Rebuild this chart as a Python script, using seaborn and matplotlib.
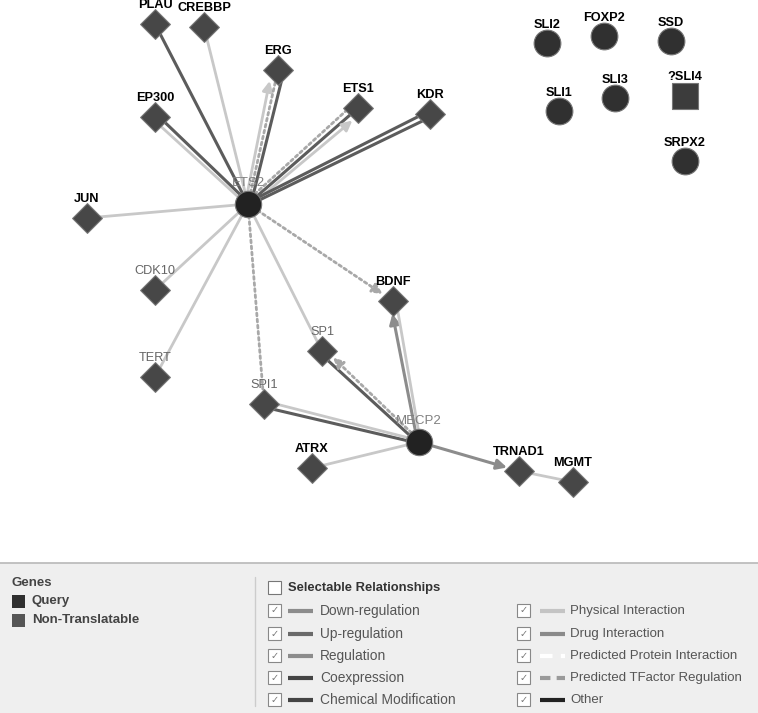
import numpy as np
import pandas as pd
import matplotlib
matplotlib.use("Agg")
import matplotlib.pyplot as plt
from matplotlib.patches import Rectangle
import seaborn as sns

# node data (pixel layout of the network view)
node_names = ["ETS2", "MECP2", "PLAU", "CREBBP", "ERG", "EP300", "ETS1", "KDR", "JUN",
              "CDK10", "TERT", "SPI1", "SP1", "BDNF", "ATRX", "TRNAD1", "MGMT",
              "SLI2", "FOXP2", "SSD", "SLI1", "SLI3", "?SLI4", "SRPX2"]
node_x = [248, 419, 155, 204, 278, 155, 358, 430, 87,
          155, 155, 264, 322, 393, 312, 519, 573,
          547, 604, 671, 559, 615, 685, 685]
node_y = [204, 442, 24, 27, 70, 117, 108, 114, 218,
          290, 377, 404, 351, 301, 468, 471, 482,
          43, 36, 41, 111, 98, 96, 161]
node_kind = ["query", "query", "gene", "gene", "gene", "gene", "gene", "gene", "gene",
             "gene", "gene", "gene", "gene", "gene", "gene", "gene", "gene",
             "sli", "sli", "sli", "sli", "sli", "sli4", "sli"]
# labels drawn in gray (query genes and some neighbours)
gray_labels = ["ETS2", "MECP2", "CDK10", "TERT", "SPI1", "SP1"]

edges = [
    ("ETS2", "PLAU", "coexp"), ("ETS2", "CREBBP", "phys"),
    ("ETS2", "ERG", "phys_arrow"), ("ETS2", "ERG", "pred_tf"), ("ETS2", "ERG", "coexp"),
    ("ETS2", "EP300", "phys"), ("ETS2", "EP300", "coexp"),
    ("ETS2", "ETS1", "pred_tf"), ("ETS2", "ETS1", "coexp"), ("ETS2", "ETS1", "phys_arrow"),
    ("ETS2", "KDR", "coexp"), ("ETS2", "KDR", "coexp"),
    ("ETS2", "JUN", "phys"), ("ETS2", "CDK10", "phys"), ("ETS2", "TERT", "phys"),
    ("ETS2", "SPI1", "pred_tf"), ("ETS2", "SP1", "phys"), ("ETS2", "BDNF", "pred_tf_arrow"),
    ("MECP2", "BDNF", "drug_arrow"), ("MECP2", "BDNF", "phys"),
    ("MECP2", "SP1", "coexp"), ("MECP2", "SP1", "pred_tf_arrow"),
    ("MECP2", "SPI1", "coexp"), ("MECP2", "SPI1", "phys"),
    ("MECP2", "ATRX", "phys"), ("MECP2", "TRNAD1", "drug_arrow"),
    ("TRNAD1", "MGMT", "phys"),
]

legend_left = ["Down-regulation", "Up-regulation", "Regulation", "Coexpression", "Chemical Modification"]
legend_left_col = ["#8c8c8c", "#6a6a6a", "#8c8c8c", "#444444", "#444444"]
legend_right = ["Physical Interaction", "Drug Interaction", "Predicted Protein Interaction",
                "Predicted TFactor Regulation", "Other"]
legend_right_col = ["#c4c4c4", "#8a8a8a", "#ffffff", "#9a9a9a", "#222222"]

styles = {
    "phys": dict(color="#c8c8c8", ls="-", lw=2.0),
    "coexp": dict(color="#5c5c5c", ls="-", lw=2.2),
    "pred_tf": dict(color="#a8a8a8", ls=(0, (1, 1.2)), lw=2.0),
    "drug": dict(color="#8c8c8c", ls="-", lw=2.2),
}

sns.set_theme(style="white")
plt.rcParams["font.family"] = ["Liberation Sans", "DejaVu Sans"]

fig = plt.figure(figsize=(7.58, 7.13), dpi=100)
ax = fig.add_axes([0, 0, 1, 1])
ax.set_xlim(0, 758)
ax.set_ylim(713, 0)
ax.axis("off")

pos = {n: (x, y) for n, x, y in zip(node_names, node_x, node_y)}
kind = dict(zip(node_names, node_kind))

# edges, parallel ones spread sideways (wider at the far end)
pair_count = {}
for a, b, t in edges:
    pair_count[(a, b)] = pair_count.get((a, b), 0) + 1
pair_seen = {}
for a, b, t in edges:
    k = pair_seen.get((a, b), 0)
    pair_seen[(a, b)] = k + 1
    n = pair_count[(a, b)]
    off = (k - (n - 1) / 2) * 4.0
    (x1, y1), (x2, y2) = pos[a], pos[b]
    d = np.hypot(x2 - x1, y2 - y1)
    px, py = -(y2 - y1) / d, (x2 - x1) / d
    base = t.replace("_arrow", "")
    st = styles[base]
    arrow = t.endswith("_arrow")
    ax.annotate("", xy=(x2 + px * off * 1.5, y2 + py * off * 1.5),
                xytext=(x1 + px * off * 0.7, y1 + py * off * 0.7),
                arrowprops=dict(arrowstyle="-|>,head_length=0.5,head_width=0.25" if arrow else "-",
                                color=st["color"], lw=st["lw"], ls=st["ls"],
                                shrinkA=4, shrinkB=9 if arrow else 3),
                zorder=1)

nodes = pd.DataFrame({"name": node_names, "x": node_x, "y": node_y, "kind": node_kind})
marker_map = {"query": "o", "gene": "D", "sli": "o", "sli4": "s"}
color_map = {"query": "#222222", "gene": "#474747", "sli": "#303030", "sli4": "#3c3c3c"}
size_map = {"query": 360, "gene": 230, "sli": 370, "sli4": 360}
for kd, sub in nodes.groupby("kind"):
    sns.scatterplot(data=sub, x="x", y="y", marker=marker_map[kd], s=size_map[kd],
                    color=color_map[kd], edgecolor="#777777", linewidth=0.8,
                    ax=ax, zorder=3, legend=False)

for n, x, y in zip(node_names, node_x, node_y):
    k = kind[n]
    if k == "query":
        ax.text(x, y - 21, n, ha="center", va="center", fontsize=9.5, color="#808080", zorder=4)
    else:
        dy = 19 if k in ("gene", "sli4") else 18
        col = "#666666" if n in gray_labels else "#000000"
        wt = "normal" if n in gray_labels else "bold"
        ax.text(x, y - dy, n, ha="center", va="center", fontsize=9.2, color=col,
                fontweight=wt, zorder=4)

# legend panel
ax.add_patch(Rectangle((0, 563), 758, 150, facecolor="#efefef", edgecolor="none", zorder=0))
ax.plot([0, 758], [563, 563], color="#b8b8b8", lw=1.2, zorder=1)
ax.plot([255, 255], [577, 706], color="#cccccc", lw=1, zorder=1)
ax.text(12, 583, "Genes", fontsize=9.5, fontweight="bold", color="#444444", va="center")
ax.add_patch(Rectangle((12, 595), 13, 13, facecolor="#2f2f2f", edgecolor="none"))
ax.text(32, 601, "Query", fontsize=9.5, fontweight="bold", color="#444444", va="center")
ax.add_patch(Rectangle((12, 614), 13, 13, facecolor="#555555", edgecolor="none"))
ax.text(32, 620, "Non-Translatable", fontsize=9.5, fontweight="bold", color="#444444", va="center")

ax.add_patch(Rectangle((268, 581), 13, 13, facecolor="white", edgecolor="#777777", lw=0.8))
ax.text(288, 588, "Selectable Relationships", fontsize=9.4, fontweight="bold", color="#333333", va="center")

row_y = [611, 634, 656, 678, 700]
for cx, lx, tx, fs, labels, cols in [(268, 288, 320, 9.9, legend_left, legend_left_col),
                                     (517, 540, 570, 9.5, legend_right, legend_right_col)]:
    for i, (yy, lab, c) in enumerate(zip(row_y, labels, cols)):
        ax.add_patch(Rectangle((cx, yy - 7), 13, 13, facecolor="white", edgecolor="#888888", lw=0.8))
        ax.text(cx + 6.5, yy - 0.5, "\u2713", fontsize=7, color="#777777", ha="center", va="center",
                family="DejaVu Sans")
        ls = (0, (2.5, 1.5)) if "TFactor" in lab else ((0, (3, 2)) if "Protein" in lab else "-")
        ax.plot([lx, lx + 25], [yy, yy], color=c, lw=3, ls=ls, solid_capstyle="butt")
        ax.text(tx, yy, lab, fontsize=fs, color="#555555", va="center")

fig.savefig("out.png", dpi=100)
